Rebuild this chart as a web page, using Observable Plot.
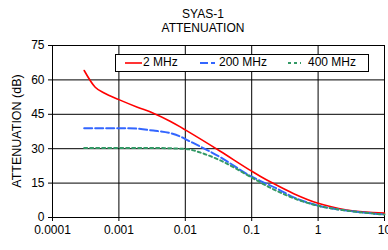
<!DOCTYPE html>
<html><head><meta charset="utf-8">
<script src="https://cdn.jsdelivr.net/npm/d3@7"></script>
<script src="https://cdn.jsdelivr.net/npm/@observablehq/plot@0.6"></script>
<style>
body{margin:0;background:#fff;font-family:"Liberation Sans",Arial,sans-serif;}
#title{width:388px;box-sizing:border-box;padding:7px 0 0 18px;text-align:center;font-size:12px;line-height:14px;color:#000;height:35px;}
#wrap{position:relative;width:388px;overflow:hidden;}
</style></head><body>
<div id="title">SYAS-1<br>ATTENUATION</div>
<div id="wrap"></div>
<script>
const seriesNames = ["2 MHz", "200 MHz", "400 MHz"];
const seriesColors = ["#ff0000", "#3366ff", "#339966"];
const seriesDash = ["none", "8,3", "3,3"];
const time2 = [0.0003, 0.00044, 0.0006, 0.001, 0.0019, 0.0033, 0.0059, 0.0084, 0.01, 0.0336, 0.1, 0.134, 0.21, 0.43, 1, 2.7, 10];
const att2 = [64.1, 56.8, 54.3, 51.4, 48.1, 45.5, 42.0, 39.5, 38.2, 28.9, 20.2, 18.0, 14.9, 10.4, 6.2, 3.3, 1.9];
const time200 = [0.0003, 0.0014, 0.0033, 0.0059, 0.0084, 0.01, 0.0336, 0.1, 0.134, 0.24, 0.43, 1, 2.7, 10];
const att200 = [38.9, 38.9, 37.9, 36.8, 35.3, 34.2, 26.3, 17.8, 16.0, 12.6, 8.8, 5.2, 3.0, 1.3];
const time400 = [0.0003, 0.001, 0.003, 0.01, 0.019, 0.0336, 0.1, 0.19, 0.43, 1, 2.7, 10];
const att400 = [30.3, 30.3, 30.3, 29.9, 27.8, 24.9, 17.4, 13.0, 8.4, 5.1, 3.0, 1.3];
const xTicks = [0.0001, 0.001, 0.01, 0.1, 1, 10];
const xTickLabels = ["0.0001", "0.001", "0.01", "0.1", "1", "10"];
const yTicks = [0, 15, 30, 45, 60, 75];

const toRows = (t, a) => t.map((v, i) => ({t: v, a: a[i]}));
const sets = [toRows(time2, att2), toRows(time200, att200), toRows(time400, att400)];

const plot = Plot.plot({
  width: 388, height: 215,
  marginTop: 10, marginBottom: 33, marginLeft: 52, marginRight: 4,
  style: {fontFamily: '"Liberation Sans", Arial, sans-serif', fontSize: "12px", color: "#000", overflow: "visible"},
  x: {type: "log", domain: [0.0001, 10], label: null},
  y: {domain: [0, 75], label: null},
  marks: [
    Plot.gridX(xTicks, {stroke: "#000", strokeOpacity: 1, strokeWidth: 1}),
    Plot.gridY(yTicks, {stroke: "#000", strokeOpacity: 1, strokeWidth: 1}),
    Plot.frame({stroke: "#000", strokeWidth: 1}),
    Plot.axisX({ticks: xTicks, tickFormat: (d) => xTickLabels[xTicks.indexOf(d)], tickSize: 4, tickPadding: 4, label: null, fontSize: 12}),
    Plot.axisY({ticks: yTicks, tickSize: 4, tickPadding: 4, label: null, fontSize: 12}),
    ...sets.map((rows, i) => Plot.line(rows, {x: "t", y: "a", curve: "monotone-x", stroke: seriesColors[i], strokeWidth: seriesDash[i] === "none" ? 1.6 : 2, strokeDasharray: seriesDash[i] === "none" ? null : seriesDash[i]}))
  ]
});
document.getElementById("wrap").appendChild(plot);

const svg = d3.select(plot);
svg.append("text")
  .attr("transform", "translate(18,96) rotate(-90)")
  .attr("text-anchor", "middle").attr("dominant-baseline", "middle")
  .attr("font-size", 12.5).attr("fill", "#000")
  .text("ATTENUATION (dB)");

const lg = svg.append("g");
lg.append("rect").attr("x", 115.5).attr("y", 19.5).attr("width", 253).attr("height", 17)
  .attr("fill", "#fff").attr("stroke", "#000").attr("stroke-width", 1);
const legX = [125, 200, 288];
const legW = [17, 15, 13];
const legT = [143, 219, 308];
seriesNames.forEach((n, i) => {
  lg.append("line").attr("x1", legX[i]).attr("x2", legX[i] + legW[i]).attr("y1", 28).attr("y2", 28)
    .attr("stroke", seriesColors[i]).attr("stroke-width", seriesDash[i] === "none" ? 1.6 : 2)
    .attr("stroke-dasharray", seriesDash[i] === "none" ? null : seriesDash[i]);
  lg.append("text").attr("x", legT[i]).attr("y", 28).attr("dominant-baseline", "middle")
    .attr("text-anchor", "start")
    .attr("font-size", 12).attr("fill", "#000").text(n);
});
</script>
</body></html>
